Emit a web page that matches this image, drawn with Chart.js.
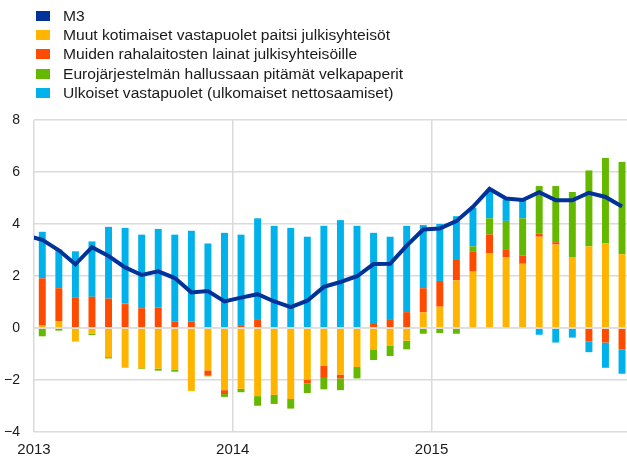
<!DOCTYPE html>
<html>
<head>
<meta charset="utf-8">
<script src="https://cdn.jsdelivr.net/npm/chart.js@4.4.1/dist/chart.umd.min.js"></script>
<style>
html,body{margin:0;padding:0;background:#fff;}
#wrap{position:relative;width:627px;height:468px;overflow:hidden;}
canvas{position:absolute;left:0;top:0;}
#legend{position:absolute;left:36px;top:6px;font-family:"Liberation Sans",Arial,sans-serif;font-size:14px;color:#1a1a1a;}
.item{display:flex;align-items:center;height:19.3px;white-space:nowrap;}
.box{width:14px;height:10px;margin-right:13px;flex:none;}
.txt{display:inline-block;transform:scaleX(1.115);transform-origin:left center;}
</style>
</head>
<body>
<div id="wrap">
<canvas id="c" width="627" height="468"></canvas>
<div id="legend"></div>
</div>
<script>
// Months Jan 2013 .. Dec 2015
const categories = [
 '2013-01','2013-02','2013-03','2013-04','2013-05','2013-06','2013-07','2013-08','2013-09','2013-10','2013-11','2013-12',
 '2014-01','2014-02','2014-03','2014-04','2014-05','2014-06','2014-07','2014-08','2014-09','2014-10','2014-11','2014-12',
 '2015-01','2015-02','2015-03','2015-04','2015-05','2015-06','2015-07','2015-08','2015-09','2015-10','2015-11','2015-12'
];
const yearLabels = ['2013','2014','2015'];

// M3 (first value is Dec 2012, just before the plotted range)
const m3Prev = 3.56;
const m3 = [3.39,2.99,2.45,3.11,2.77,2.33,2.04,2.18,1.92,1.37,1.42,1.02,
            1.17,1.30,1.02,0.80,1.05,1.58,1.77,1.99,2.46,2.47,3.17,3.79,
            3.83,4.11,4.66,5.35,4.98,4.92,5.22,4.91,4.91,5.20,5.04,4.67];

// Muut kotimaiset vastapuolet paitsi julkisyhteisöt
const muutKotimaiset = [0.09,0.26,-0.52,-0.22,-1.12,-1.53,-1.55,-1.56,-1.61,-2.42,-1.63,-2.39,
                        -2.34,-2.62,-2.57,-2.73,-1.98,-1.46,-1.79,-1.50,-0.82,-0.67,-0.49,0.60,
                        0.82,1.83,2.17,2.88,2.73,2.47,3.51,3.21,2.73,3.14,3.25,2.84];

// Muiden rahalaitosten lainat julkisyhteisöille
const rahalaitostenLainat = [1.82,1.27,1.16,1.20,1.13,0.92,0.76,0.79,0.24,0.24,-0.20,-0.15,
                             0.11,0.31,-0.04,0,-0.15,-0.46,-0.15,0,0.19,0.31,0.61,0.93,
                             0.99,0.82,0.78,0.72,0.30,0.31,0.12,0.09,0,-0.52,-0.56,-0.82];

// Eurojärjestelmän hallussaan pitämät velkapaperit
const eurojarjestelma = [-0.32,-0.10,0,-0.05,-0.05,0.03,-0.03,-0.08,-0.07,0,-0.03,-0.11,
                         -0.13,-0.37,-0.31,-0.37,-0.37,-0.44,-0.45,-0.44,-0.41,-0.41,-0.33,-0.22,
                         -0.19,-0.22,0.19,0.62,1.09,1.44,1.83,2.16,2.50,2.92,3.29,3.55];

// Ulkoiset vastapuolet (ulkomaiset nettosaamiset)
const ulkoiset = [1.79,1.49,1.79,2.13,2.76,2.90,2.83,3.02,3.35,3.50,3.25,3.66,
                  3.48,3.91,3.93,3.85,3.51,3.93,4.15,3.93,3.47,3.20,3.32,2.43,
                  2.19,1.65,1.49,1.08,0.83,0.70,-0.26,-0.56,-0.37,-0.41,-0.97,-0.94];

const seriesNames = [
  'M3',
  'Muut kotimaiset vastapuolet paitsi julkisyhteisöt',
  'Muiden rahalaitosten lainat julkisyhteisöille',
  'Eurojärjestelmän hallussaan pitämät velkapaperit',
  'Ulkoiset vastapuolet (ulkomaiset nettosaamiset)'
];
const colors = ['#003299','#FFB400','#FF4B00','#65B800','#00B1EA'];

// position of each month = its index + 0.5 (month mid-point on a linear month axis)
const pts = arr => arr.map((v,i)=>({x:i+0.5,y:v}));
const m3Points = [{x:-0.5,y:m3Prev}].concat(pts(m3));

// HTML legend
const lg = document.getElementById('legend');
seriesNames.forEach((n,i)=>{
  const d=document.createElement('div');d.className='item';
  const b=document.createElement('span');b.className='box';b.style.background=colors[i];
  const t=document.createElement('span');t.className='txt';t.textContent=n;
  d.appendChild(b);d.appendChild(t);lg.appendChild(d);
});

const zeroLine = {
  id:'zeroLine',
  afterDatasetsDraw(chart){
    const {ctx, chartArea, scales} = chart;
    const y = scales.y.getPixelForValue(0);
    ctx.save();
    ctx.strokeStyle='rgba(222,222,222,0.75)';
    ctx.lineWidth=2;
    ctx.beginPath();ctx.moveTo(chartArea.left,y);ctx.lineTo(chartArea.right,y);ctx.stroke();
    ctx.restore();
  }
};

const barDs = (label,data,color)=>({
  type:'bar', label, data:pts(data), backgroundColor:color, borderWidth:0,
  stack:'bars', order:2, categoryPercentage:1, barPercentage:0.42
});

const font = {family:'"Liberation Sans", Arial, sans-serif', size:14};

new Chart(document.getElementById('c'), {
  type:'bar',
  data:{
    datasets:[
      {type:'line', label:seriesNames[0], data:m3Points, borderColor:colors[0], backgroundColor:colors[0],
       borderWidth:4, pointRadius:0, tension:0, fill:false, stack:'m3', order:0, clip:0},
      barDs(seriesNames[1], muutKotimaiset, colors[1]),
      barDs(seriesNames[2], rahalaitostenLainat, colors[2]),
      barDs(seriesNames[3], eurojarjestelma, colors[3]),
      barDs(seriesNames[4], ulkoiset, colors[4])
    ]
  },
  options:{
    responsive:false, animation:false, devicePixelRatio:1,
    layout:{padding:{top:120,left:0,right:0,bottom:0}},
    plugins:{legend:{display:false}, tooltip:{enabled:false}},
    scales:{
      x:{type:'linear', min:0, max:35.8, stacked:true, offset:false,
         border:{display:false},
         grid:{color:'#dadada', lineWidth:1.5, drawTicks:false, offset:false},
         afterFit:(s)=>{ s.paddingLeft=0; s.paddingRight=0; },
         ticks:{stepSize:12, includeBounds:false, autoSkip:false, maxRotation:0, padding:9,
                color:'#1a1a1a', font:{family:font.family, size:15},
                callback:(v)=> (v%12===0 ? (yearLabels[v/12] ?? '') : '')}},
      y:{min:-4, max:8, stacked:true,
         border:{display:false},
         grid:{color:'#dadada', lineWidth:1.5, drawTicks:false},
         afterFit:(s)=>{ s.width=34; },
         ticks:{stepSize:2, padding:14, color:'#1a1a1a', font,
                callback:(v)=> (v<0 ? '\u2212'+Math.abs(v) : String(v))}}
    }
  },
  plugins:[zeroLine]
});
</script>
</body>
</html>
